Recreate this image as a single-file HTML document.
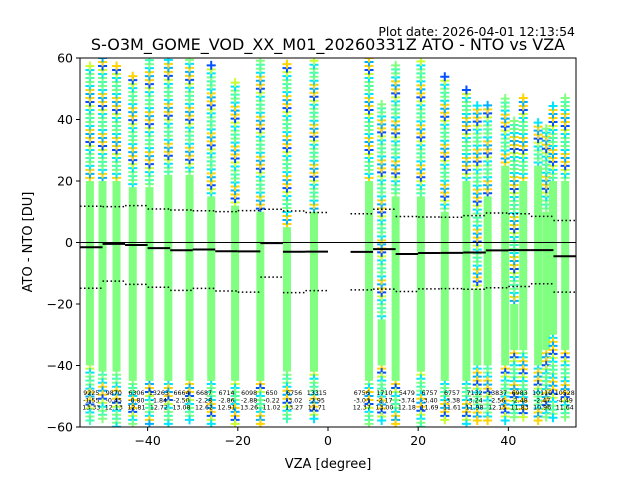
<!DOCTYPE html>
<html><head><meta charset="utf-8"><style>
body{margin:0;background:#fff;}
svg text{font-family:"DejaVu Sans","Liberation Sans",sans-serif;}
</style></head><body>
<svg id="chart" width="640" height="480" xmlns="http://www.w3.org/2000/svg">
<defs><clipPath id="pc"><rect x="80" y="58" width="496" height="369"/></clipPath></defs>
<rect width="640" height="480" fill="#fff"/>
<text x="575" y="36" text-anchor="end" font-size="12.5">Plot date: 2026-04-01 12:13:54</text>
<text x="328" y="50" text-anchor="middle" font-size="16">S-O3M_GOME_VOD_XX_M01_20260331Z ATO - NTO vs VZA</text>
<g id="marks" clip-path="url(#pc)"></g>
<g id="stats"></g>
<g id="ann"></g>
<rect x="80" y="58" width="496" height="369" fill="none" stroke="#000" stroke-width="1"/>
<g id="axes"></g>
<text x="328" y="468" text-anchor="middle" font-size="13">VZA [degree]</text>
<text transform="translate(32,242) rotate(-90)" text-anchor="middle" font-size="13">ATO - NTO [DU]</text>
</svg>
<script>
// columns of scatter (VZA position and extents in DU)
const colVza   = [-52.8,-50,-46.9,-43.3,-39.6,-35.4,-30.7,-25.9,-20.6,-15.0,-9.1,-3.1, 9.1,11.9,15.0,20.6,25.9,30.7,33.1,35.4,39.3,41.3,43.3,46.6,48.4,49.9,52.6];
const colTop   = [58,60,58,55,60,60,60,58,52,60,58,60, 60,45,58,60,55,50,45,45,48,40,48,40,38,45,48];
const colGHi   = [20,20,20,18,18,22,22,15,12,10,5,10, 20,-25,15,15,10,20,-15,15,25,-20,20,25,10,20,20];
const colGLo   = [-40,-42,-42,-45,-45,-45,-45,-45,-45,-45,-42,-42, -45,-40,-45,-42,-45,-45,-40,-40,-40,-35,-35,-40,-35,-30,-35];
const colBot   = [-58,-58,-60,-60,-60,-60,-58,-60,-60,-60,-58,-58, -60,-58,-60,-60,-58,-60,-58,-58,-58,-58,-58,-58,-58,-58,-58];
// bin statistics
const binLo    = [-55,-50,-45,-40,-35,-30,-25,-20,-15,-10,-5, 5,10,15,20,25,30,35,40,45,50];
const binN     = ["9225","9870","6306","13263","6664","6687","6714","6098","650","6756","13315","6756","1710","5479","6757","6757","7132","13837","6983","10110","10528"];
const binMean  = [-1.55,-0.45,-0.80,-1.84,-2.50,-2.28,-2.86,-2.88,-0.22,-3.02,-2.95,-3.03,-2.17,-3.74,-3.40,-3.38,-3.24,-2.56,-2.48,-2.47,-4.49];
const binStd   = [13.33,12.13,12.81,12.72,13.08,12.62,12.91,13.26,11.02,13.27,12.71,12.37,13.00,12.18,11.69,11.61,11.98,12.15,11.83,10.96,11.64];
const xTicks   = [-40,-20,0,20,40];
const yTicks   = [60,40,20,0,-20,-40,-60];

const NS="http://www.w3.org/2000/svg";
const X=v=>80+(v+55)/110*496;
const Y=v=>242.5-v*369/120;
function el(t,a,p){const e=document.createElementNS(NS,t);for(const k in a)e.setAttribute(k,a[k]);p.appendChild(e);return e;}
const marks=document.getElementById('marks'),stats=document.getElementById('stats'),ann=document.getElementById('ann'),axes=document.getElementById('axes');
const pal=['#ffd400','#00e5ff','#80ff80','#00b0ff','#c8ff30','#40ffb0','#ffd400','#0050ff','#80ff80','#00e5ff'];
function plus(x,y,c){const p=el('path',{d:`M${x-4.5},${y}h9M${x},${y-4.5}v9`,stroke:c,'stroke-width':2,fill:'none'},marks);

}
colVza.forEach((v,i)=>{
  const cx=X(v);
  let k=i;
  for(let d=colGHi[i]+1;d<=colTop[i];d+=1.3){plus(cx,Y(d),pal[(k++*3)%pal.length]);}
  for(let d=colGLo[i]-1;d>=colBot[i];d-=1.3){plus(cx,Y(d),pal[(k++*7+1)%pal.length]);}
  const g=el('rect',{x:cx-4,y:Y(colGHi[i]),width:8,height:Y(colGLo[i])-Y(colGHi[i]),fill:'#80ff80'},marks);
  
  
});
// zero line
const z=el('line',{x1:80,x2:576,y1:Y(0),y2:Y(0),stroke:'#000','stroke-width':1},stats);


binLo.forEach((b,i)=>{
  const x1=X(b),x2=X(b+5),m=binMean[i],s=binStd[i];
  const ml=el('line',{x1,x2,y1:Y(m),y2:Y(m),stroke:'#000','stroke-width':2},stats);
  
  
  [m+s,m-s].forEach(v=>{const d=el('line',{x1,x2,y1:Y(v),y2:Y(v),stroke:'#000','stroke-width':1.5,'stroke-dasharray':'1.5,2.5'},stats);
    
    });
  const cx=(x1+x2)/2;
  [binN[i],m.toFixed(2),s.toFixed(2)].forEach((t,j)=>{const tx=el('text',{x:cx,y:395+j*7.3,'text-anchor':'middle','font-size':6.3},ann);tx.textContent=t;
    
    });
});
xTicks.forEach(t=>{const x=X(t);el('line',{x1:x,x2:x,y1:427,y2:431,stroke:'#000'},axes);
  const tx=el('text',{x,y:445,'text-anchor':'middle','font-size':12.5},axes);tx.textContent=t<0?'\u2212'+(-t):t;
  
  });
yTicks.forEach(t=>{const y=Y(t);el('line',{x1:76,x2:80,y1:y,y2:y,stroke:'#000'},axes);
  const tx=el('text',{x:73,y:y+4.5,'text-anchor':'end','font-size':12.5},axes);tx.textContent=t<0?'\u2212'+(-t):t;
  
  });
</script>
</body></html>
